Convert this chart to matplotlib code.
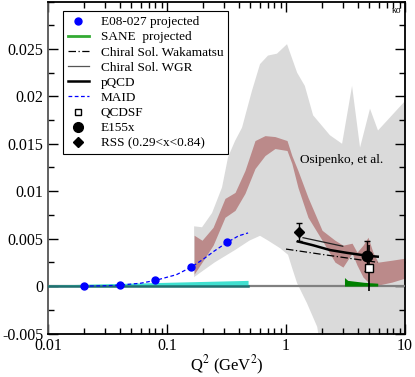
import matplotlib
matplotlib.use("Agg")
import matplotlib.pyplot as plt
from matplotlib.lines import Line2D
from matplotlib.ticker import FixedLocator, FuncFormatter, LogLocator, NullFormatter, MultipleLocator
import numpy as np

plt.rcParams['font.family'] = ['Liberation Serif', 'DejaVu Serif']
plt.rcParams['mathtext.fontset'] = 'stix'

# ---------------- data ----------------
# Osipenko et al. wide (gray) band
gray_up_q2 = [0.169, 0.197, 0.239, 0.290, 0.326, 0.373, 0.427, 0.518, 0.605, 0.706, 0.840,
              1.02, 1.24, 1.44, 1.69, 2.34, 2.96, 3.59, 4.19, 5.08, 5.93, 10.0]
gray_up_y = [0.0063, 0.0062, 0.0077, 0.0104, 0.0136, 0.0153, 0.0167, 0.0206, 0.0234, 0.0243, 0.0245,
             0.0255, 0.0225, 0.0211, 0.0180, 0.0159, 0.0150, 0.0211, 0.0146, 0.0187, 0.0164, 0.0195]
gray_lo_q2 = [0.169, 0.252, 0.373, 0.494, 0.605, 0.706, 0.89, 1.04, 1.12, 1.24, 1.50, 1.83, 1.93, 10.0]
gray_lo_y = [0.00095, 0.0025, 0.0038, 0.0048, 0.0053, 0.0048, 0.0040, 0.0033, 0.0020, 0.0003,
             -0.0018, -0.0043, -0.0062, -0.0062]

# Osipenko et al. (red) band
red_q2 = [0.169, 0.197, 0.244, 0.307, 0.373, 0.452, 0.549, 0.666, 0.808, 1.02, 1.12, 1.26, 1.53,
          2.01, 2.58, 3.01, 3.59, 3.95, 4.44, 4.89, 5.38, 5.93, 7.78, 10.0]
red_up = [0.00536, 0.00483, 0.0062, 0.00924, 0.00987, 0.01218, 0.01534, 0.01586, 0.01576, 0.01534,
          0.01376, 0.01218, 0.00935, 0.00588, 0.00483, 0.00431, 0.00452, 0.00357, 0.00431, 0.00515,
          0.00357, 0.00252, 0.00273, 0.00294]
red_lo = [0.00126, 0.00252, 0.00431, 0.00725, 0.00798, 0.00977, 0.01239, 0.01376, 0.0145, 0.01429,
          0.01292, 0.0104, 0.00725, 0.00483, 0.00252, 0.0020, 0.00347, 0.00221, 0.00095, 0.00042,
          0.00021, 0.0001, 0.00042, 0.00084]

# E08-027 projected points
e08_q2 = [0.02, 0.04, 0.08, 0.16, 0.32]
e08_y = [0.0, 0.0001, 0.0006, 0.0020, 0.0046]

# E08-027 projected uncertainty band (cyan)
cyan_q2 = [0.01, 0.48]
cyan_top = [0.0001, 0.0006]

# SANE projected band (green)
sane_q2 = [3.1, 3.3, 4.5, 5.9]
sane_top = [0.0009, 0.0006, 0.0004, 0.0003]

# MAID
maid_q2 = [0.02, 0.03, 0.04, 0.06, 0.08, 0.12, 0.16, 0.2, 0.25, 0.32, 0.4, 0.48]
maid_y = [0.0, 0.00003, 0.0001, 0.0003, 0.0006, 0.0012, 0.0020, 0.0028, 0.0037, 0.0046, 0.0053, 0.0056]

# pQCD
pqcd_q2 = [1.26, 1.69, 2.34, 3.26, 4.8, 5.9]
pqcd_y = [0.0047, 0.0043, 0.0038, 0.0035, 0.0032, 0.0031]

# Chiral Sol. WGR
wgr_q2 = [1.39, 3.0]
wgr_y = [0.0051, 0.0042]

# Chiral Sol. Wakamatsu
waka_q2 = [1.0, 2.11, 5.9]
waka_y = [0.0039, 0.0033, 0.0025]

# QCDSF
qcdsf_q2 = [5.0]
qcdsf_y = [0.0019]
qcdsf_err = [0.0024]

# E155x
e155_q2 = [4.8]
e155_y = [0.0032]
e155_err = [0.0016]

# RSS
rss_q2 = [1.28]
rss_y = [0.0057]
rss_err = [0.0010]

xticks = [0.01, 0.1, 1, 10]
xticklabels = ["0.01", "0.1", "1", "10"]
yticks = [-0.005, 0.0, 0.005, 0.01, 0.015, 0.02, 0.025]
yticklabels = ["-0.005", "0", "0.005", "0.01", "0.015", "0.02", "0.025"]

# ---------------- figure ----------------
fig = plt.figure(figsize=(4.15, 3.77), dpi=100)
ax = fig.add_axes([48/415, 1 - 333.5/377, 357/415, 332/377])
ax.set_xscale('log')
ax.set_xlim(0.01, 10)
ax.set_ylim(-0.005, 0.03)

gx = list(gray_up_q2) + list(gray_lo_q2[::-1])
gy = list(gray_up_y) + list(gray_lo_y[::-1])
ax.fill(gx, gy, color='#dadada', lw=0, zorder=1)
ax.fill_between(red_q2, red_lo, red_up, color='#bb8a8a', lw=0, zorder=2)

ax.axhline(0, color='#808080', lw=1.6, zorder=3)
ax.fill_between(cyan_q2, 0, cyan_top, color='#40e0d0', lw=0, zorder=4)
ax.plot(cyan_q2, [0, 0], color='#207070', lw=1.8, zorder=4)
ax.fill_between(sane_q2, 0, sane_top, color='#008000', lw=0, zorder=4)

ax.plot(maid_q2, maid_y, color='blue', lw=0.9, ls=(0, (3, 2)), zorder=5)
ax.plot(waka_q2, waka_y, color='black', lw=0.9, ls=(0, (6, 2, 1, 2)), zorder=5)
ax.plot(wgr_q2, wgr_y, color='#222222', lw=0.9, zorder=5)
ax.plot(pqcd_q2, pqcd_y, color='black', lw=1.8, zorder=5)

ax.plot(e08_q2, e08_y, 'o', color='blue', ms=5, zorder=6)
ax.errorbar(rss_q2, rss_y, yerr=rss_err, fmt='D', color='black', ms=5, capsize=2.5, elinewidth=1, zorder=6)
ax.errorbar(e155_q2, e155_y, yerr=e155_err, fmt='o', color='black', ms=7.5, capsize=2.5, elinewidth=1, zorder=6)
ax.errorbar(qcdsf_q2, qcdsf_y, yerr=qcdsf_err, fmt='s', color='black', mfc='white', mec='black',
            ms=5.5, capsize=0, elinewidth=1.2, zorder=7)

ax.text(1.31, 0.0133, "Osipenko, et al.", fontsize=9.5, va='center', ha='left', zorder=8)
ax.text(0.99, 0.985, "κσ", transform=ax.transAxes, fontsize=7, ha='right', va='top', zorder=8)

# ticks
ax.xaxis.set_major_locator(FixedLocator(xticks))
ax.xaxis.set_major_formatter(FuncFormatter(lambda v, p: xticklabels[xticks.index(v)] if v in xticks else ""))
ax.xaxis.set_minor_locator(LogLocator(base=10, subs=np.arange(2, 10)))
ax.xaxis.set_minor_formatter(NullFormatter())
ax.yaxis.set_major_locator(FixedLocator(yticks))
ax.set_yticklabels(yticklabels)
ax.yaxis.set_minor_locator(MultipleLocator(0.0025))
ax.tick_params(which='both', direction='in', top=True, right=True, labelsize=11.5, colors='black')
ax.tick_params(which='major', length=7, width=1)
ax.tick_params(which='minor', length=4, width=1)
ax.tick_params(axis='x', pad=3)
for s in ax.spines.values():
    s.set_linewidth(1.3)
ax.spines['left'].set_color('#555555')

ax.set_xlabel("Q$^2$ (GeV$^2$)", fontsize=12, labelpad=0)

handles = [
    Line2D([], [], ls='none', marker='o', color='blue', ms=5),
    Line2D([], [], color='#33aa33', lw=2),
    Line2D([], [], color='black', lw=0.9, ls=(0, (6, 2, 1, 2))),
    Line2D([], [], color='#555555', lw=0.9),
    Line2D([], [], color='black', lw=1.8),
    Line2D([], [], color='blue', lw=0.9, ls=(0, (3, 2))),
    Line2D([], [], ls='none', marker='s', mfc='white', mec='black', ms=5),
    Line2D([], [], ls='none', marker='o', color='black', ms=7),
    Line2D([], [], ls='none', marker='D', color='black', ms=5),
]
labels = ["E08-027 projected", "SANE  projected", "Chiral Sol. Wakamatsu", "Chiral Sol. WGR",
          "pQCD", "MAID", "QCDSF", "E155x", "RSS (0.29<x<0.84)"]
leg = ax.legend(handles, labels, loc='upper left', bbox_to_anchor=(0.042, 0.970), borderaxespad=0,
                fontsize=9.5, frameon=True, fancybox=False, edgecolor='black', framealpha=1,
                handlelength=1.6, handletextpad=0.9, labelspacing=0.22, borderpad=0.35)
leg.get_frame().set_linewidth(0.8)
leg.set_zorder(10)

fig.savefig("out.png", dpi=100)
